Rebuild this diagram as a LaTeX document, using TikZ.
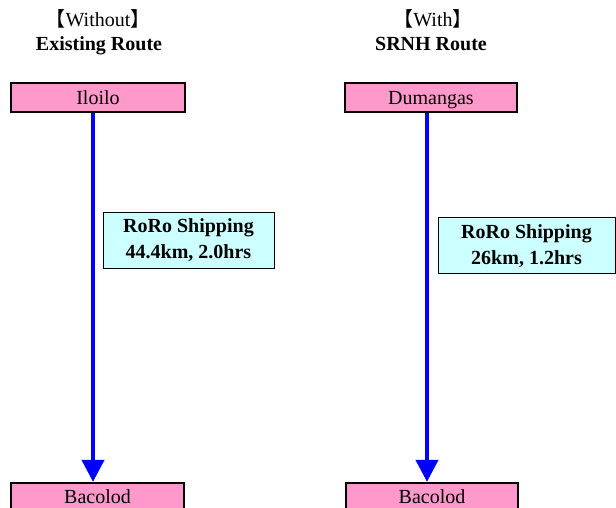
\documentclass[tikz,border=0pt]{standalone}
\usepackage{fontspec}
\setmainfont{Liberation Serif}
\newfontfamily\cjkf{Noto Sans CJK SC}
\usetikzlibrary{arrows.meta}
\newcommand{\sq}[1]{#1}
\definecolor{pinkbox}{RGB}{255,153,204}
\definecolor{cyanbox}{RGB}{204,255,255}
\definecolor{arrowblue}{RGB}{0,0,255}
\begin{document}
\begin{tikzpicture}[x=1pt,y=-1pt,font=\fontsize{20}{24}\selectfont,
  city/.style={draw=black,line width=2.2pt,fill=pinkbox,inner sep=0pt,
    minimum height=29pt,text height=15pt,text depth=0pt},
  citylow/.style={city,text height=15pt,text depth=4pt},
  lab/.style={draw=black,line width=0.8pt,fill=cyanbox,minimum height=56pt,inner sep=0pt},
  txt/.style={inner sep=0pt,anchor=base},
  route/.style={draw=arrowblue,line width=4pt,-{Triangle[width=22pt,length=22pt]}}]
\useasboundingbox (0,0) rectangle (616,508);
% titles
\node[txt] (t1a) at (98,27) {{\cjkf 【}Without{\cjkf 】}};
\node[txt] (t1b) at (99,51) {\textbf{Existing Route}};
\node[txt] (t2a) at (433,27) {{\cjkf 【}With{\cjkf 】}};
\node[txt] (t2b) at (431,51) {\textbf{SRNH Route}};
% city boxes
\node[city,minimum width=174pt] (ilo) at (98,97.5) {Iloilo};
\node[city,minimum width=172pt] (dum) at (431,97.5) {Dumangas};
\node[citylow,minimum width=173pt] (bac1) at (97.5,497.5) {Bacolod};
\node[citylow,minimum width=172pt] (bac2) at (432,497.5) {Bacolod};
% routes
\draw[route] ([xshift=-5pt]ilo.south) -- ([xshift=-4.5pt]bac1.north);
\draw[route] ([xshift=-4pt]dum.south) -- ([xshift=-5pt]bac2.north);
% labels
\node[lab,minimum width=171pt] (lab1) at (188.5,240) {};
\node[txt] (lab1a) at (188.5,232) {\textbf{RoRo Shipping}};
\node[txt] (lab1b) at (188.5,258) {\textbf{44.4km, 2.0hrs}};
\node[lab,minimum width=177pt] (lab2) at (526.5,245) {};
\node[txt] (lab2a) at (526.5,238) {\textbf{RoRo Shipping}};
\node[txt] (lab2b) at (526.5,264) {\textbf{26km, 1.2hrs}};
\end{tikzpicture}
\end{document}
